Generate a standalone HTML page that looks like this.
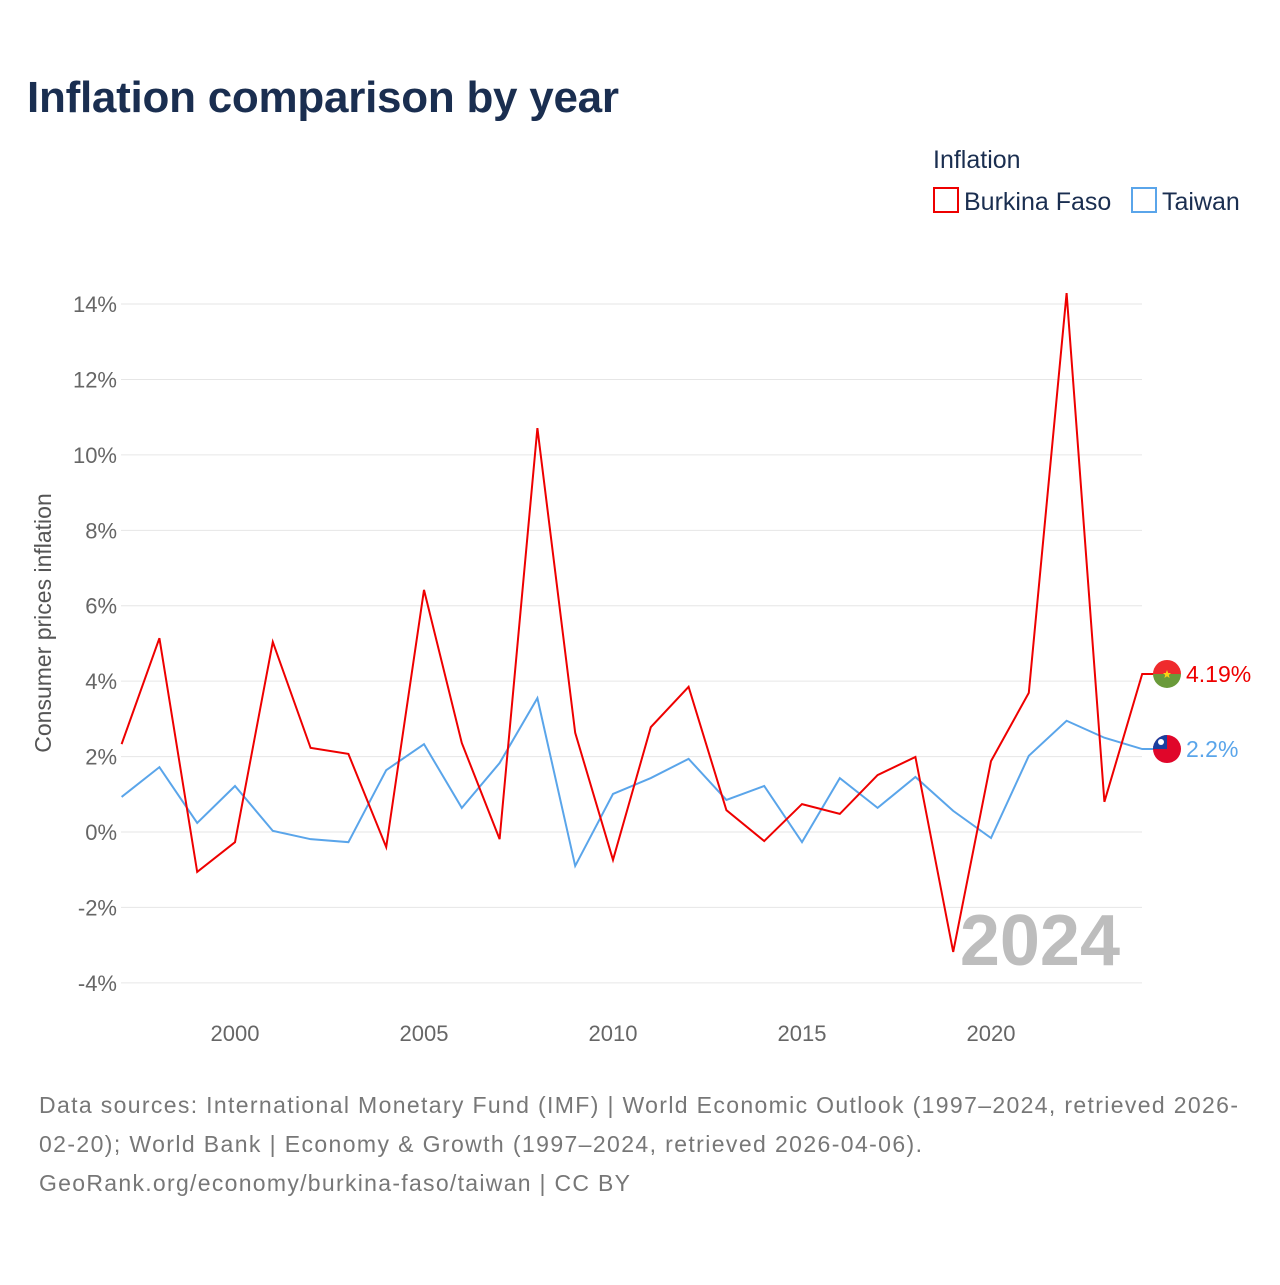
<!DOCTYPE html>
<html><head><meta charset="utf-8"><style>
body{margin:0;background:#fff;width:1280px;height:1280px;overflow:hidden;font-family:"Liberation Sans",sans-serif}
</style></head><body>
<svg width="1280" height="1280" xmlns="http://www.w3.org/2000/svg">
<defs>
<clipPath id="cbf"><circle id="cbfc" cx="1167" cy="674" r="14"/></clipPath>
<clipPath id="ctw"><circle id="ctwc" cx="1167" cy="749" r="14"/></clipPath>
</defs>
<text x="27" y="112" font-size="44" font-weight="bold" fill="#1a2e50" textLength="592">Inflation comparison by year</text>
<text x="933" y="168" font-size="25" fill="#1a2e50">Inflation</text>
<g><rect x="934" y="188" width="24" height="24" fill="none" stroke="#ee0000" stroke-width="2"/><text x="964" y="210" font-size="25" fill="#1a2e50">Burkina Faso</text></g>
<g><rect x="1132" y="188" width="24" height="24" fill="none" stroke="#5aa5ea" stroke-width="2"/><text x="1162" y="210" font-size="25" fill="#1a2e50">Taiwan</text></g>
<g id="grid"></g><g id="axes"></g><g id="lines"></g>
<text x="1120" y="965" font-size="72" font-weight="bold" fill="#bdbdbd" text-anchor="end">2024</text>
<text transform="translate(51,623) rotate(-90)" font-size="23" fill="#555" text-anchor="middle">Consumer prices inflation</text>
<g font-size="23" fill="#777">
<text x="39" y="1113" textLength="1199">Data sources: International Monetary Fund (IMF) | World Economic Outlook (1997–2024, retrieved 2026-</text>
<text x="39" y="1152" textLength="883">02-20); World Bank | Economy &amp; Growth (1997–2024, retrieved 2026-04-06).</text>
<text x="39" y="1191" textLength="591">GeoRank.org/economy/burkina-faso/taiwan | CC BY</text>
</g>
</svg>
<script>
const years=[];for(let y=1997;y<=2024;y++)years.push(y);
const burkina=[2.33,5.14,-1.06,-0.27,5.04,2.23,2.07,-0.40,6.42,2.36,-0.19,10.71,2.63,-0.74,2.78,3.85,0.58,-0.24,0.74,0.48,1.51,1.99,-3.18,1.88,3.69,14.29,0.80,4.19];
const taiwan=[0.93,1.72,0.24,1.22,0.03,-0.19,-0.27,1.64,2.33,0.64,1.83,3.55,-0.90,1.01,1.43,1.94,0.85,1.22,-0.27,1.43,0.64,1.46,0.56,-0.16,2.02,2.95,2.50,2.20];
const yTicks=[-4,-2,0,2,4,6,8,10,12,14];
const xTicks=[2000,2005,2010,2015,2020];
const NS="http://www.w3.org/2000/svg";
const X=y=>121.6+(y-1997)*37.8;
const Y=v=>832-v*37.71;
function mk(t,a,p){const e=document.createElementNS(NS,t);for(const k in a)e.setAttribute(k,a[k]);p.appendChild(e);return e;}
const grid=document.getElementById('grid'),axes=document.getElementById('axes'),lines=document.getElementById('lines');
yTicks.forEach(v=>{
 const l=mk('line',{x1:121,x2:1142,y1:Y(v),y2:Y(v),stroke:'#e6e6e6','stroke-width':1},grid);
 
 
 const t=mk('text',{x:117,y:Y(v)+8,'font-size':22,fill:'#666','text-anchor':'end'},axes);t.textContent=v+'%';
 
 
});
xTicks.forEach(v=>{
 const t=mk('text',{x:X(v),y:1041,'font-size':22,fill:'#666','text-anchor':'middle'},axes);t.textContent=v;
 
 
});
function flag(kind,cy){
 const g=mk('g',{},lines);
 if(kind==='bf'){
  document.getElementById('cbfc').setAttribute('cy',cy);
  g.setAttribute('clip-path','url(#cbf)');
  mk('rect',{x:1153,y:cy-14,width:28,height:14,fill:'#ef2b2d'},g);
  mk('rect',{x:1153,y:cy,width:28,height:14,fill:'#6a9a3a'},g);
  mk('polygon',{points:`1167,${cy-4} 1168.2,${cy-1} 1171,${cy-1} 1168.8,${cy+1} 1169.6,${cy+4} 1167,${cy+2.2} 1164.4,${cy+4} 1165.2,${cy+1} 1163,${cy-1} 1165.8,${cy-1}`,fill:'#fcd116'},g);
  
 } else {
  document.getElementById('ctwc').setAttribute('cy',cy);
  g.setAttribute('clip-path','url(#ctw)');
  mk('rect',{x:1153,y:cy-14,width:28,height:28,fill:'#e0062a'},g);
  mk('rect',{x:1153,y:cy-14,width:14,height:14,fill:'#1a3fa0'},g);
  mk('circle',{cx:1161,cy:cy-7,r:3,fill:'#fff'},g);
  
 }
 
}
function series(data,color,name,label,kind){
 const last=data[data.length-1];
 const pts=data.map((v,i)=>X(years[i])+','+Y(v));
 pts.push('1155,'+Y(last));
 const p=mk('polyline',{points:pts.join(' '),fill:'none',stroke:color,'stroke-width':2},lines);
 
 
 flag(kind,Y(last));
 const t=mk('text',{x:1186,y:Y(last)+8,'font-size':23,fill:color},lines);t.textContent=label;
 
 
}
series(taiwan,'#5aa5ea','taiwan','2.2%','tw');
series(burkina,'#ee0000','burkina-faso','4.19%','bf');
</script>
</body></html>
